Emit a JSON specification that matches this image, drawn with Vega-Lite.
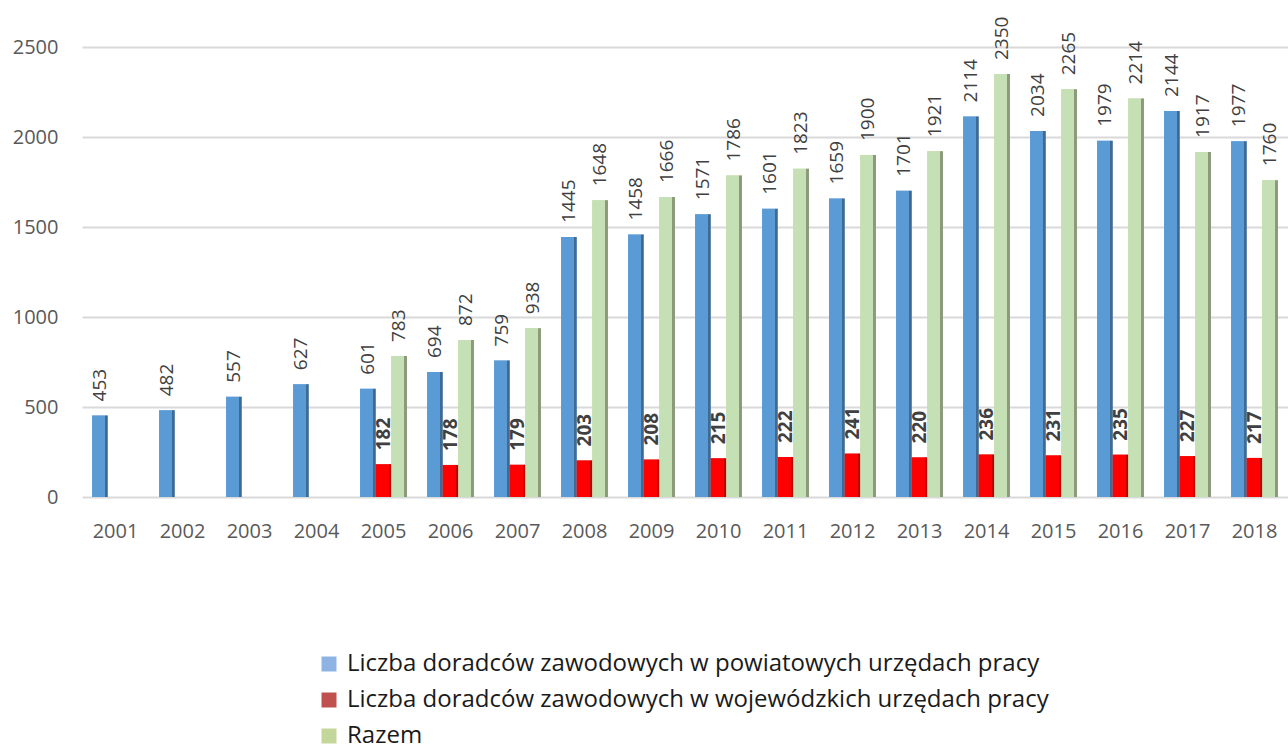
{
  "$schema": "https://vega.github.io/schema/vega-lite/v6.json",
  "width": 1206,
  "height": 450,
  "autosize": "none",
  "padding": {"left": 82, "top": 47, "right": 0, "bottom": 252},
  "background": "white",
  "config": {"view": {"stroke": null}, "font": "Open Sans"},
  "data": {
    "values": [
      {"year": "2001", "series": "Liczba doradców zawodowych w powiatowych urzędach pracy", "value": 453},
      {"year": "2002", "series": "Liczba doradców zawodowych w powiatowych urzędach pracy", "value": 482},
      {"year": "2003", "series": "Liczba doradców zawodowych w powiatowych urzędach pracy", "value": 557},
      {"year": "2004", "series": "Liczba doradców zawodowych w powiatowych urzędach pracy", "value": 627},
      {"year": "2005", "series": "Liczba doradców zawodowych w powiatowych urzędach pracy", "value": 601},
      {"year": "2006", "series": "Liczba doradców zawodowych w powiatowych urzędach pracy", "value": 694},
      {"year": "2007", "series": "Liczba doradców zawodowych w powiatowych urzędach pracy", "value": 759},
      {"year": "2008", "series": "Liczba doradców zawodowych w powiatowych urzędach pracy", "value": 1445},
      {"year": "2009", "series": "Liczba doradców zawodowych w powiatowych urzędach pracy", "value": 1458},
      {"year": "2010", "series": "Liczba doradców zawodowych w powiatowych urzędach pracy", "value": 1571},
      {"year": "2011", "series": "Liczba doradców zawodowych w powiatowych urzędach pracy", "value": 1601},
      {"year": "2012", "series": "Liczba doradców zawodowych w powiatowych urzędach pracy", "value": 1659},
      {"year": "2013", "series": "Liczba doradców zawodowych w powiatowych urzędach pracy", "value": 1701},
      {"year": "2014", "series": "Liczba doradców zawodowych w powiatowych urzędach pracy", "value": 2114},
      {"year": "2015", "series": "Liczba doradców zawodowych w powiatowych urzędach pracy", "value": 2034},
      {"year": "2016", "series": "Liczba doradców zawodowych w powiatowych urzędach pracy", "value": 1979},
      {"year": "2017", "series": "Liczba doradców zawodowych w powiatowych urzędach pracy", "value": 2144},
      {"year": "2018", "series": "Liczba doradców zawodowych w powiatowych urzędach pracy", "value": 1977},
      {"year": "2005", "series": "Liczba doradców zawodowych w wojewódzkich urzędach pracy", "value": 182},
      {"year": "2006", "series": "Liczba doradców zawodowych w wojewódzkich urzędach pracy", "value": 178},
      {"year": "2007", "series": "Liczba doradców zawodowych w wojewódzkich urzędach pracy", "value": 179},
      {"year": "2008", "series": "Liczba doradców zawodowych w wojewódzkich urzędach pracy", "value": 203},
      {"year": "2009", "series": "Liczba doradców zawodowych w wojewódzkich urzędach pracy", "value": 208},
      {"year": "2010", "series": "Liczba doradców zawodowych w wojewódzkich urzędach pracy", "value": 215},
      {"year": "2011", "series": "Liczba doradców zawodowych w wojewódzkich urzędach pracy", "value": 222},
      {"year": "2012", "series": "Liczba doradców zawodowych w wojewódzkich urzędach pracy", "value": 241},
      {"year": "2013", "series": "Liczba doradców zawodowych w wojewódzkich urzędach pracy", "value": 220},
      {"year": "2014", "series": "Liczba doradców zawodowych w wojewódzkich urzędach pracy", "value": 236},
      {"year": "2015", "series": "Liczba doradców zawodowych w wojewódzkich urzędach pracy", "value": 231},
      {"year": "2016", "series": "Liczba doradców zawodowych w wojewódzkich urzędach pracy", "value": 235},
      {"year": "2017", "series": "Liczba doradców zawodowych w wojewódzkich urzędach pracy", "value": 227},
      {"year": "2018", "series": "Liczba doradców zawodowych w wojewódzkich urzędach pracy", "value": 217},
      {"year": "2005", "series": "Razem", "value": 783},
      {"year": "2006", "series": "Razem", "value": 872},
      {"year": "2007", "series": "Razem", "value": 938},
      {"year": "2008", "series": "Razem", "value": 1648},
      {"year": "2009", "series": "Razem", "value": 1666},
      {"year": "2010", "series": "Razem", "value": 1786},
      {"year": "2011", "series": "Razem", "value": 1823},
      {"year": "2012", "series": "Razem", "value": 1900},
      {"year": "2013", "series": "Razem", "value": 1921},
      {"year": "2014", "series": "Razem", "value": 2350},
      {"year": "2015", "series": "Razem", "value": 2265},
      {"year": "2016", "series": "Razem", "value": 2214},
      {"year": "2017", "series": "Razem", "value": 1917},
      {"year": "2018", "series": "Razem", "value": 1760}
    ]
  },
  "encoding": {
    "x": {
      "field": "year",
      "type": "ordinal",
      "scale": {"paddingInner": 0.3, "paddingOuter": 0.15},
      "axis": {
        "title": null,
        "labelAngle": 0,
        "labelFont": "Open Sans",
        "labelFontSize": 20,
        "labelColor": "#595959",
        "labelPadding": 24,
        "domain": false,
        "ticks": false
      }
    },
    "xOffset": {
      "field": "series",
      "type": "nominal",
      "scale": {
        "domain": [
          "Liczba doradców zawodowych w powiatowych urzędach pracy",
          "Liczba doradców zawodowych w wojewódzkich urzędach pracy",
          "Razem"
        ],
        "paddingInner": 0,
        "paddingOuter": 0
      }
    },
    "y": {
      "field": "value",
      "type": "quantitative",
      "scale": {"domain": [0, 2500], "nice": false},
      "axis": {
        "title": null,
        "values": [0, 500, 1000, 1500, 2000, 2500],
        "format": "d",
        "labelFont": "Open Sans",
        "labelFontSize": 20,
        "labelColor": "#595959",
        "labelPadding": 24,
        "domain": false,
        "ticks": false,
        "gridColor": "#D9D9D9",
        "gridWidth": 2
      }
    }
  },
  "layer": [
    {
      "mark": {"type": "bar"},
      "encoding": {
        "color": {
          "field": "series",
          "type": "nominal",
          "scale": {
            "domain": [
              "Liczba doradców zawodowych w powiatowych urzędach pracy",
              "Liczba doradców zawodowych w wojewódzkich urzędach pracy",
              "Razem"
            ],
            "range": ["#8DB4E2", "#C0504D", "#C4D79B"]
          },
          "legend": {
            "title": null,
            "orient": "none",
            "legendX": 235,
            "legendY": 605,
            "direction": "vertical",
            "labelFont": "Open Sans",
            "labelFontSize": 24,
            "labelColor": "#1a1a1a",
            "labelLimit": 1200,
            "symbolType": "square",
            "symbolSize": 225,
            "symbolStrokeWidth": 0,
            "rowPadding": 12,
            "labelOffset": 6
          }
        }
      }
    },
    {
      "transform": [{"filter": "datum.series == 'Liczba doradców zawodowych w powiatowych urzędach pracy'"}],
      "mark": {
        "type": "bar",
        "color": {
          "gradient": "linear", "x1": 0, "x2": 1, "y1": 0, "y2": 0,
          "stops": [
            {"offset": 0, "color": "#5B9BD5"},
            {"offset": 0.8, "color": "#5B9BD5"},
            {"offset": 0.8, "color": "#3F6A93"},
            {"offset": 1, "color": "#3F6A93"}
          ]
        }
      }
    },
    {
      "transform": [{"filter": "datum.series == 'Liczba doradców zawodowych w wojewódzkich urzędach pracy'"}],
      "mark": {
        "type": "bar",
        "color": {
          "gradient": "linear", "x1": 0, "x2": 1, "y1": 0, "y2": 0,
          "stops": [
            {"offset": 0, "color": "#FF0000"},
            {"offset": 0.85, "color": "#FF0000"},
            {"offset": 0.85, "color": "#C00000"},
            {"offset": 1, "color": "#C00000"}
          ]
        }
      }
    },
    {
      "transform": [{"filter": "datum.series == 'Razem'"}],
      "mark": {
        "type": "bar",
        "color": {
          "gradient": "linear", "x1": 0, "x2": 1, "y1": 0, "y2": 0,
          "stops": [
            {"offset": 0, "color": "#C5E0B4"},
            {"offset": 0.8, "color": "#C5E0B4"},
            {"offset": 0.8, "color": "#8A9A7B"},
            {"offset": 1, "color": "#8A9A7B"}
          ]
        }
      }
    },
    {
      "transform": [{"filter": "datum.series != 'Liczba doradców zawodowych w wojewódzkich urzędach pracy'"}],
      "mark": {"type": "text", "angle": 270, "align": "left", "baseline": "middle", "dx": 14, "fontSize": 19, "color": "#404040"},
      "encoding": {"text": {"field": "value", "type": "quantitative"}}
    },
    {
      "transform": [{"filter": "datum.series == 'Liczba doradców zawodowych w wojewódzkich urzędach pracy'"}],
      "mark": {"type": "text", "angle": 270, "align": "left", "baseline": "middle", "dx": 14, "fontSize": 19, "fontWeight": "bold", "color": "#404040"},
      "encoding": {"text": {"field": "value", "type": "quantitative"}}
    }
  ]
}
